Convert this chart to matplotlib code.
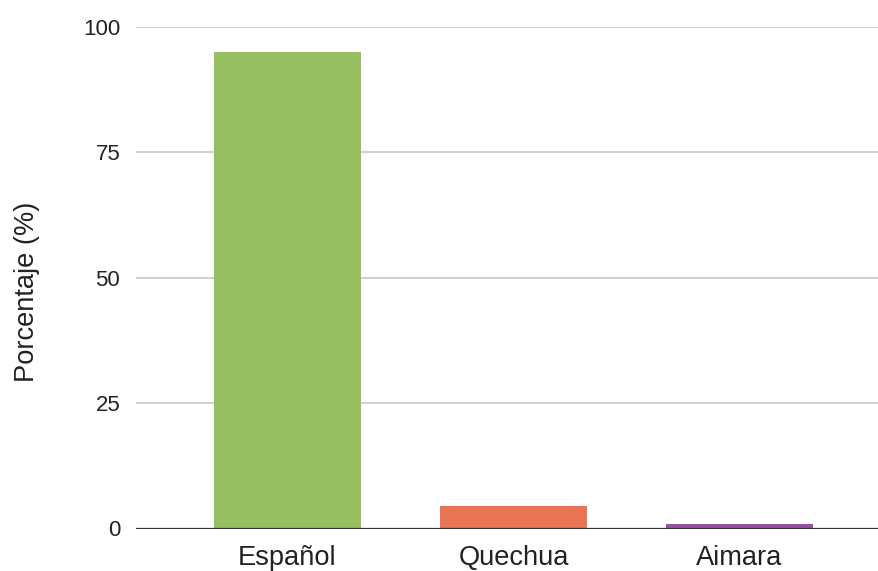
import matplotlib
matplotlib.use("Agg")
import matplotlib.pyplot as plt

categories = ["Español", "Quechua", "Aimara"]
values = [95.0, 4.5, 0.9]
colors = ["#97bf62", "#e97554", "#9650a3"]
yticks = [0, 25, 50, 75, 100]

plt.rcParams['font.family'] = ['Liberation Sans', 'DejaVu Sans']

fig = plt.figure(figsize=(8.79, 5.71), dpi=100)
W, H = 879, 571
left, right = 135.5, 879
bottom, top = 528.5, 27
ax = fig.add_axes([left / W, (H - bottom) / H, (right - left) / W, (bottom - top) / H])

x = list(range(len(categories)))
ax.bar(x, values, width=0.648, color=colors, zorder=3)

ax.set_xlim(-0.6726, 2.617)
ax.set_ylim(0, 100)
ax.set_yticks(yticks)
ax.set_yticklabels([str(t) for t in yticks])
ax.set_xticks(x)
ax.set_xticklabels(categories)

for t in yticks[1:]:
    ax.axhline(t, color="#cccccc", lw=1.3, zorder=1)
ax.axhline(0, color="#333333", lw=1.6, zorder=4)

for s in ax.spines.values():
    s.set_visible(False)

ax.tick_params(axis='y', length=0, pad=11, labelsize=16, labelcolor="#222222")
ax.tick_params(axis='x', length=0, pad=12, labelsize=19.6, labelcolor="#222222")
ax.set_ylabel("Porcentaje (%)", fontsize=19.6, color="#222222")
ax.yaxis.set_label_coords(-0.128, 0.4716)

fig.savefig("out.png", dpi=100)
